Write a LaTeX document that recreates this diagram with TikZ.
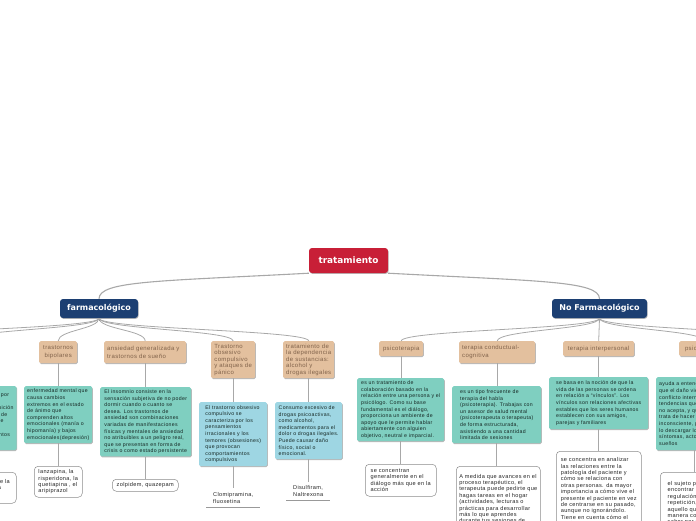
\documentclass[tikz,border=0pt]{standalone}
\usepackage{fontspec}
\setmainfont{Liberation Sans}
\newfontfamily\smallsans{Liberation Sans}[LetterSpace=6.0]
\newfontfamily\titlesans{DejaVu Sans}
\usetikzlibrary{shadows}
\definecolor{rootred}{RGB}{200,31,55}
\definecolor{navy}{RGB}{28,63,114}
\definecolor{tanfill}{RGB}{227,192,158}
\definecolor{tantext}{RGB}{128,98,74}
\definecolor{tealfill}{RGB}{127,207,192}
\definecolor{bluefill}{RGB}{158,214,227}
\definecolor{boxtext}{RGB}{22,40,36}
\definecolor{linegray}{RGB}{168,168,168}
\tikzset{
  shade1/.style={drop shadow={shadow xshift=0.6pt, shadow yshift=-0.9pt, fill=black, opacity=0.28}},
  mainnode/.style={rounded corners=3pt, fill=navy, text=white, inner sep=0pt,
    font=\titlesans\bfseries\fontsize{8}{10}\selectfont, shade1},
  rootnode/.style={mainnode, fill=rootred, font=\titlesans\bfseries\fontsize{8.9}{11}\selectfont},
  tanbox/.style={anchor=north west, fill=tanfill, text=tantext, rounded corners=1.5pt,
    inner xsep=3pt, inner ysep=2pt, align=left, font=\smallsans\fontsize{6.0}{6.5}\selectfont, shade1},
  tantwo/.style={tanbox, font=\smallsans\fontsize{6.0}{8}\selectfont},
  tealbox/.style={anchor=north west, fill=tealfill, text=boxtext, rounded corners=1.5pt,
    inner xsep=3pt, inner ysep=2.5pt, align=left, font=\smallsans\fontsize{5.2}{6.6}\selectfont, shade1},
  bluebox/.style={tealbox, fill=bluefill},
  whitebox/.style={anchor=north west, fill=white, draw=black!45, line width=0.5pt, text=black!85,
    rounded corners=4pt, inner xsep=3pt, inner ysep=2.5pt, align=left, font=\smallsans\fontsize{5.6}{6.4}\selectfont},
  plainbox/.style={anchor=north west, text=black!85, inner xsep=3pt, inner ysep=2pt, align=left,
    font=\smallsans\fontsize{5.6}{6.6}\selectfont},
  conn/.style={draw=linegray, line width=0.8pt},
  mainconn/.style={draw=linegray, line width=1.1pt},
}
\begin{document}
\begin{tikzpicture}[x=1pt,y=-1pt]
\useasboundingbox (0,0) rectangle (696,520);
\clip (0,0) rectangle (696,520);

% main nodes
\node[rootnode, minimum width=79pt, minimum height=25pt] (root) at (348.5,260.5) {tratamiento};
\node[mainnode, minimum width=78pt, minimum height=19pt] (farm) at (99,308.5) {farmacológico};
\node[mainnode, minimum width=95pt, minimum height=19pt] (nofarm) at (599.5,308.5) {No Farmacológico};

% off-frame ends
\coordinate (L1) at (-40,341);
\coordinate (L2) at (-130,341);
\coordinate (R2) at (800,341);

% tan boxes
\node[tantwo, minimum width=38pt, minimum height=22pt, align=center] (t1) at (39,341) {trastornos\\bipolares};
\node[tantwo, text width=76pt, minimum height=22pt] (t2) at (104,341) {ansiedad generalizada y\\trastornos de sueño};
\node[tanbox, minimum width=44pt, minimum height=37pt] (t3) at (211,341) {Trastorno\\obsesivo\\compulsivo\\y ataques de\\pánico};
\node[tanbox, minimum width=50pt, minimum height=37pt] (t4) at (283,341) {tratamiento de\\la dependencia\\de sustancias:\\alcohol y\\drogas ilegales};
\node[tanbox, minimum width=44pt, minimum height=15pt, align=center] (t5) at (379,341) {psicoterapia};
\node[tantwo, text width=70pt, minimum height=22pt] (t6) at (459,341) {terapia conductual-\\cognitiva};
\node[tanbox, minimum width=71pt, minimum height=15pt, align=center] (t7) at (563,341) {terapia interpersonal};
\node[tanbox, minimum width=50pt, minimum height=15pt] (t8) at (679,341) {psicoanálisis};

% teal / blue boxes
\node[tealbox, minimum width=75pt, minimum height=64pt] (g0) at (-64,386) {de ánimo caracterizado por\\una tristeza profunda,\\pérdida de interés, inhibición\\y sentimientos de culpa de\\la persona que la padece\\con síntomas afectivos\\y físicos, sus pensamientos\\y su conducta diaria};
\node[tealbox, minimum width=68pt, minimum height=57pt] (g1) at (24,386) {enfermedad mental que\\causa cambios\\extremos en el estado\\de ánimo que\\comprenden altos\\emocionales (manía o\\hipomanía) y bajos\\emocionales(depresión)};
\node[tealbox, minimum width=91pt, minimum height=69pt] (g2) at (100,387) {El insomnio consiste en la\\sensación subjetiva de no poder\\dormir cuando o cuanto se\\desea. Los trastornos de\\ansiedad son combinaciones\\variadas de manifestaciones\\físicas y mentales de ansiedad\\no atribuibles a un peligro real,\\que se presentan en forma de\\crisis o como estado persistente};
\node[bluebox, minimum width=68pt, minimum height=64pt] (b3) at (199,402) {El trastorno obsesivo\\compulsivo se\\caracteriza por los\\pensamientos\\irracionales y los\\temores (obsesiones)\\que provocan\\comportamientos\\compulsivos};
\node[bluebox, minimum width=67pt, minimum height=57pt] (b4) at (275,402) {Consumo excesivo de\\drogas psicoactivas,\\como alcohol,\\medicamentos para el\\dolor o drogas ilegales.\\Puede causar daño\\físico, social o\\emocional.};
\node[tealbox, minimum width=87pt, minimum height=63pt] (g5) at (357,378) {es un tratamiento de\\colaboración basado en la\\relación entre una persona y el\\psicólogo. Como su base\\fundamental es el diálogo,\\proporciona un ambiente de\\apoyo que le permite hablar\\abiertamente con alguien\\objetivo, neutral e imparcial.};
\node[tealbox, minimum width=89pt, minimum height=57pt] (g6) at (452,386) {es un tipo frecuente de\\terapia del habla\\(psicoterapia). Trabajas con\\un asesor de salud mental\\(psicoterapeuta o terapeuta)\\de forma estructurada,\\asistiendo a una cantidad\\limitada de sesiones};
\node[tealbox, minimum width=99pt, minimum height=52pt] (g7) at (549,377) {se basa en la noción de que la\\vida de las personas se ordena\\en relación a “vínculos”. Los\\vínculos son relaciones afectivas\\estables que los seres humanos\\establecen con sus amigos,\\parejas y familiares};
\node[tealbox, minimum width=75pt, minimum height=73pt] (g8) at (656,377) {ayuda a entender\\que el daño viene de un\\conflicto interno entre\\tendencias que el sujeto\\no acepta, y que se\\trata de hacer consciente lo\\inconsciente, para\\lo descargar los\\síntomas, actos fallidos y\\sueños};

% white boxes
\node[whitebox, minimum width=66pt, minimum height=31pt] (w0) at (-50,472) {el tratamiento de la\\enfermedad y la\\};
\node[whitebox, minimum width=48pt, minimum height=31pt] (w1) at (34,466) {lanzapina, la\\risperidona, la\\quetiapina , el\\aripiprazol};
\node[whitebox, minimum width=66pt, minimum height=12pt, align=center] (w2) at (112,479) {zolpidem, quazepam};
\node[plainbox, minimum width=54pt, minimum height=19pt] (w3) at (206,488) {Clomipramina,\\fluoxetina};
\node[plainbox, minimum width=44pt, minimum height=18pt] (w4) at (286,482) {Disulfiram,\\Naltrexona};
\node[whitebox, minimum width=71pt, minimum height=32pt] (w5) at (365,464) {se concentran\\generalmente en el\\diálogo más que en la\\acción};
\node[whitebox, minimum width=81pt, minimum height=72pt] (w6) at (456,466) {A medida que avances en el\\proceso terapéutico, el\\terapeuta puede pedirte que\\hagas tareas en el hogar\\(actividades, lecturas o\\prácticas para desarrollar\\más lo que aprendes\\durante tus sesiones de\\terapia)};
\node[whitebox, minimum width=85pt, minimum height=82pt] (w7) at (556,451) {se concentra en analizar\\las relaciones entre la\\patología del paciente y\\cómo se relaciona con\\otras personas. da mayor\\importancia a cómo vive el\\presente el paciente en vez\\de centrarse en su pasado,\\aunque no ignorándolo.\\Tiene en cuenta cómo el\\paciente};
\node[whitebox, minimum width=75pt, minimum height=62pt] (w8) at (660,472) {el sujeto puede\\encontrar un modo de\\regulación de la\\repetición, y recordar\\aquello que de otra\\manera continua sin\\saber por qué};

\draw[black!40, line width=0.5pt] (w3.south west) -- (w3.south east);
\draw[black!40, line width=0.5pt] (w4.south west) -- (w4.south east);

% connectors root
\draw[mainconn] (root.south west) .. controls +(-150,8) and +(0,-18) .. (farm.north);
\draw[mainconn] (root.south east) .. controls +(150,8) and +(0,-18) .. (nofarm.north);

% connectors farm
\draw[black!70, line width=0.9pt] (farm.south) -- +(0,3);
\foreach \c in {L1,L2,t1,t2,t3,t4}
  \draw[conn] (farm.south) .. controls +(0,11) and +(0,-11) .. (\c.north);
\foreach \c in {t5,t6,t8,R2}
  \draw[conn] (nofarm.south) .. controls +(0,11) and +(0,-11) .. (\c.north);
\draw[black!70, line width=0.9pt] (nofarm.south) -- +(0,3);
\draw[conn] (nofarm.south) -- (t7.north);

% vertical connectors
\foreach \a/\b in {t1/g1,t2/g2,t3/b3,t4/b4,t5/g5,t6/g6,t7/g7,t8/g8,g0/w0,g1/w1,g2/w2,b3/w3,b4/w4,g5/w5,g6/w6,g7/w7,g8/w8}
  \draw[conn] (\a.south) -- (\a.south |- \b.north);
\end{tikzpicture}
\end{document}
